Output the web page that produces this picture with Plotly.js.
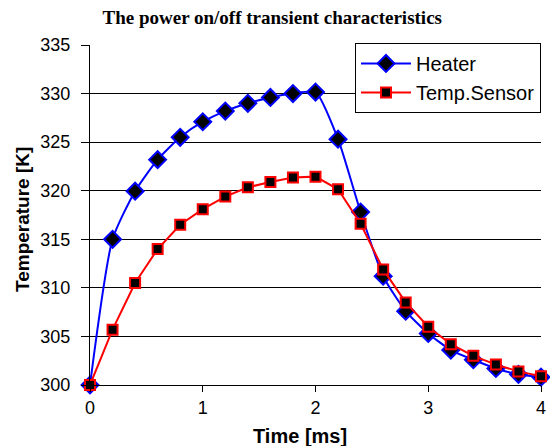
<!DOCTYPE html>
<html>
<head>
<meta charset="utf-8">
<script src="https://cdn.plot.ly/plotly-3.0.1.min.js"></script>
<style>html,body{margin:0;padding:0;background:#fff}#chart{width:550px;height:446px}</style>
</head>
<body>
<div id="chart"></div>
<script>
const timeMs = [0,0.2,0.4,0.6,0.8,1.0,1.2,1.4,1.6,1.8,2.0,2.2,2.4,2.6,2.8,3.0,3.2,3.4,3.6,3.8,4.0];
const heater = [300,315.0,319.95,323.2,325.5,327.1,328.2,329.0,329.6,330.0,330.15,325.3,317.8,311.2,307.6,305.3,303.6,302.6,301.7,301.1,300.8];
const sensor = [300,305.7,310.5,314.0,316.5,318.1,319.4,320.35,320.9,321.35,321.45,320.15,316.6,311.9,308.5,306.0,304.2,303.0,302.1,301.4,300.9];
const yTicks = [300,305,310,315,320,325,330,335];
const xTicks = [0,1,2,3,4];

const sans = 'Liberation Sans, Arial, sans-serif';
const traces = [
  {x: timeMs, y: heater, name: 'Heater', type: 'scatter', mode: 'lines+markers',
   line: {color: '#0000ff', width: 2, shape: 'spline', smoothing: 0.6},
   marker: {symbol: 'diamond', size: 13, color: '#000000', line: {color: '#0000ff', width: 2}},
   cliponaxis: false},
  {x: timeMs, y: sensor, name: 'Temp.Sensor', type: 'scatter', mode: 'lines+markers',
   line: {color: '#ff0000', width: 2},
   marker: {symbol: 'square', size: 10, color: '#000000', line: {color: '#ff0000', width: 2}},
   cliponaxis: false}
];

const layout = {
  width: 550, height: 446,
  margin: {l: 90, r: 9, t: 45, b: 61},
  paper_bgcolor: '#ffffff', plot_bgcolor: '#ffffff',
  title: {text: '<b>The power on/off transient characteristics</b>',
          font: {family: 'Liberation Serif, Times New Roman, serif', size: 19, color: '#000'},
          x: 0.495, xanchor: 'center', y: 0.962, yanchor: 'middle'},
  xaxis: {range: [0, 4], tickvals: xTicks, ticktext: xTicks.map(String),
          showgrid: false, zeroline: false, showline: true, linecolor: '#000', linewidth: 1,
          ticks: 'outside', ticklen: 6, tickcolor: '#000',
          tickfont: {family: sans, size: 18, color: '#000'}},
  yaxis: {range: [300, 335], tickvals: yTicks, ticktext: yTicks.map(String),
          showgrid: true, gridcolor: '#000', gridwidth: 1, zeroline: false,
          showline: true, linecolor: '#000', linewidth: 1,
          ticks: 'outside', ticklen: 8, tickcolor: '#000', ticklabelstandoff: 7,
          tickfont: {family: sans, size: 18, color: '#000'}},
  annotations: [
    {text: '<b>Time [ms]</b>', xref: 'paper', yref: 'paper', x: (300 - 90) / 451, y: -0.149,
     xanchor: 'center', yanchor: 'middle', showarrow: false,
     font: {family: sans, size: 20, color: '#000'}},
    {text: '<b>Temperature [K]</b>', xref: 'paper', yref: 'paper', x: (23 - 90) / 451, y: (385 - 220) / 340,
     xanchor: 'center', yanchor: 'middle', showarrow: false, textangle: -90,
     font: {family: sans, size: 19, color: '#000'}}
  ],
  legend: {x: 1, xanchor: 'right', y: 1.006, yanchor: 'top',
           bgcolor: '#ffffff', bordercolor: '#000', borderwidth: 1,
           font: {family: sans, size: 20, color: '#000'},
           itemwidth: 50, tracegroupgap: 4},
  showlegend: true
};

Plotly.newPlot('chart', traces, layout, {staticPlot: true, displayModeBar: false});
</script>
</body>
</html>
